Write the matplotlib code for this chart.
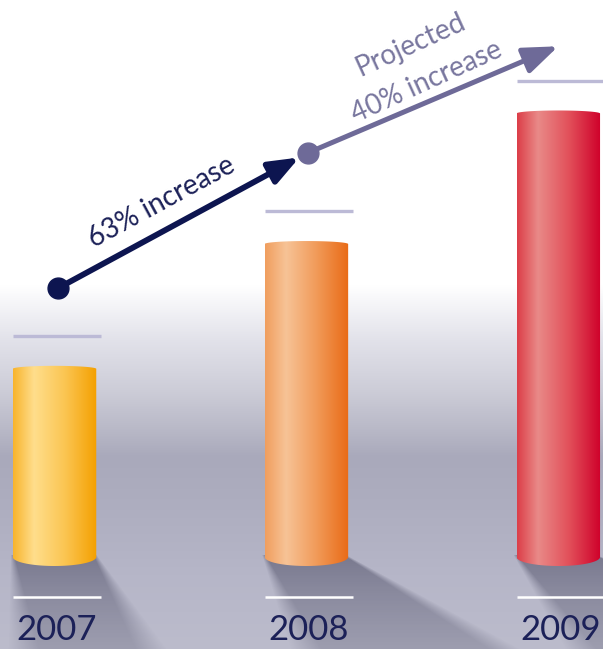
import numpy as np
import matplotlib
matplotlib.use('Agg')
import matplotlib.pyplot as plt
import matplotlib.colors as mcolors
from matplotlib.path import Path
from matplotlib.patches import PathPatch, FancyArrowPatch

# ============================================================
# DATA
# ============================================================

years = ['2007', '2008', '2009']
values = [98, 163, 231]            # relative bar heights
label_first = '63% increase'
label_proj_1 = 'Projected'
label_proj_2 = '40% increase'

bar_grads = [
    ['#F8B42C', '#FFDE8C', '#FBC552', '#F4A000'],
    ['#F09E5E', '#F7C396', '#F19A58', '#E96A16'],
    ['#DC3E48', '#E98A88', '#E2505A', '#CF002A'],
]
grad_stops = [0.0, 0.25, 0.62, 1.0]

NAVY = '#0D1550'
TEXT_NAVY = '#1C2158'
LAVENDER = '#6E6A98'
LAVENDER_TXT = '#78769E'

# ============================================================
# FIGURE / SCALES
# ============================================================

W, H = 603, 649
PX_X = 251.9       # pixels per category step
K = 1.92           # pixels per value unit
X0_PX = 54.5       # pixel centre of first bar
BASE_PX = 557      # pixel row of value 0
BW = 83.5 / PX_X   # bar width in category units

fig = plt.figure(figsize=(W / 100, H / 100), dpi=100)
ax = fig.add_axes([0, 0, 1, 1])
ax.axis('off')
xlim = (-X0_PX / PX_X, (W - X0_PX) / PX_X)
ylim = (-(H - BASE_PX) / K, BASE_PX / K)
ext = [xlim[0], xlim[1], ylim[0], ylim[1]]

# background: white top, lavender-grey lower half
bg_stops = [(0, '#FFFFFF'), (285, '#FFFFFF'), (340, '#E2E2EA'), (390, '#CDCDD8'),
            (425, '#BBBBC9'), (457, '#A9A9BB'), (510, '#AEAEC0'), (575, '#B6B6C8'),
            (649, '#BCBCCC')]
rows = np.arange(H) + 0.5
pos = [s[0] for s in bg_stops]
cols = np.array([mcolors.to_rgb(s[1]) for s in bg_stops])
bg = np.stack([np.interp(rows, pos, cols[:, c]) for c in range(3)], axis=-1)
ax.imshow(bg[:, None, :], extent=ext, aspect='auto', origin='upper', zorder=0)

ax.set_xlim(*xlim)
ax.set_ylim(*ylim)


def to_px(x, y):
    d = ax.transData.transform((x, y))
    return d[0], H - d[1]


# ============================================================
# SHADOWS (soft, leaning to the lower right)
# ============================================================

shadow_lean = [(0.12, 0.6), (0.45, 1.7), (0.7, 2.4)]
px = np.arange(W) + 0.5
PX, PY = np.meshgrid(px, rows)
keep = np.ones_like(PX)
for i, v in enumerate(values):
    xl0, yb = to_px(i - BW / 2, 0)
    xr0, _ = to_px(i + BW / 2, 0)
    sl, sr = shadow_lean[i]
    d = PY - yb
    s = 4 + 0.3 * np.clip(d, 0, None)
    xl = xl0 + sl * d
    xr = xr0 + sr * d
    inside = np.clip(0.5 + (PX - xl) / s, 0, 1) * np.clip(0.5 + (xr - PX) / s, 0, 1)
    a = 0.55 * inside * np.exp(-np.clip(d, 0, None) / 130.0) * (d > -2)
    keep *= (1 - a)
shadow = np.zeros((H, W, 4))
shadow[..., :3] = mcolors.to_rgb('#4A4A62')
shadow[..., 3] = 1 - keep
ax.imshow(shadow, extent=ext, aspect='auto', origin='upper', zorder=1)

# ============================================================
# CYLINDERS
# ============================================================

ht = 3 / K
hb = 9 / K
t = np.linspace(0, np.pi, 60)
for i, v in enumerate(values):
    x0, x1 = i - BW / 2, i + BW / 2
    top = [(i - BW / 2 * np.cos(a), v + ht * np.sin(a)) for a in t]
    bot = [(i + BW / 2 * np.cos(a), -hb * np.sin(a)) for a in t]
    verts = [(x0, 0)] + top + bot + [(x0, 0)]
    codes = [Path.MOVETO] + [Path.LINETO] * (len(verts) - 2) + [Path.CLOSEPOLY]
    clip = PathPatch(Path(verts, codes), transform=ax.transData,
                     facecolor='none', edgecolor='none')
    ax.add_patch(clip)
    cmap = mcolors.LinearSegmentedColormap.from_list(
        f'c{i}', list(zip(grad_stops, bar_grads[i])))
    grad = cmap(np.linspace(0, 1, 256))[None, :, :]
    im = ax.imshow(grad, extent=[x0, x1, -hb, v + ht], aspect='auto',
                   interpolation='bilinear', zorder=3)
    im.set_clip_path(clip)

    # reference line above bar, white line below
    ax.plot([x0, x1 + 5 / PX_X], [v + 17, v + 17], color='#BCBAD6', lw=2.4,
            solid_capstyle='butt', zorder=2)
    ax.plot([x0, x1 + 5 / PX_X], [-40 / K, -40 / K], color='white', lw=1.8,
            solid_capstyle='butt', zorder=4)
    ax.text(i + 2 / PX_X, -83 / K, years[i], ha='center', va='baseline',
            fontsize=25, color=TEXT_NAVY, family='Lato', zorder=5)

ax.set_xlim(*xlim)
ax.set_ylim(*ylim)

# ============================================================
# GROWTH ARROWS
# ============================================================

dot1 = (0 + 3.5 / PX_X, values[0] + 42)
dot2 = (1 + 1.5 / PX_X, values[1] + 47.5)
tip = (2, values[2] + 35)

ax.add_patch(FancyArrowPatch(dot1, dot2, arrowstyle='-|>,head_length=1.8,head_width=0.7',
                             mutation_scale=10, lw=4.2, color=NAVY,
                             shrinkA=0, shrinkB=7, zorder=5))
ax.add_patch(FancyArrowPatch(dot2, tip, arrowstyle='-|>,head_length=2.1,head_width=0.8',
                             mutation_scale=10, lw=3.6, color=LAVENDER,
                             shrinkA=0, shrinkB=0, zorder=5))
ax.plot(*dot1, 'o', ms=15, color=NAVY, zorder=6)
ax.plot(*dot2, 'o', ms=15, color=LAVENDER, zorder=6)

mid1 = ((dot1[0] + dot2[0]) / 2, (dot1[1] + dot2[1]) / 2)
mid2 = ((dot2[0] + tip[0]) / 2, (dot2[1] + tip[1]) / 2)
txt = dict(ha='center', va='center', rotation_mode='anchor', family='Lato',
           fontsize=20, textcoords='offset pixels', zorder=6)
ax.annotate(label_first, xy=mid1, xytext=(-21, 18), rotation=28.5, color=TEXT_NAVY, **txt)
ax.annotate(label_proj_2, xy=mid2, xytext=(-6, 18), rotation=24.5, color=LAVENDER_TXT, **txt)
ax.annotate(label_proj_1, xy=mid2, xytext=(-22, 55), rotation=24.5, color=LAVENDER_TXT, **txt)

fig.savefig('out.png', dpi=100)
